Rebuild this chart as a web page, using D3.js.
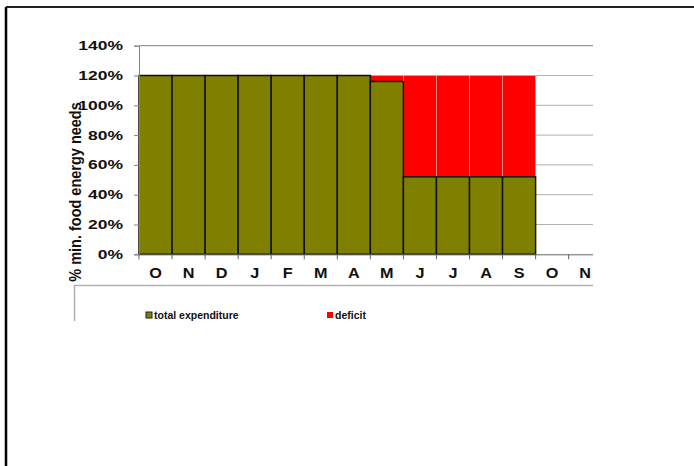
<!DOCTYPE html>
<html>
<head>
<meta charset="utf-8">
<script src="https://cdn.jsdelivr.net/npm/d3@7"></script>
<style>
  html, body { margin: 0; padding: 0; background: #fff; }
  svg { display: block; font-family: "Liberation Sans", Arial, sans-serif; }
</style>
</head>
<body>
<svg id="chart" width="694" height="466"></svg>
<script>
// Data
const months = ['O', 'N', 'D', 'J', 'F', 'M', 'A', 'M', 'J', 'J', 'A', 'S', 'O', 'N'];
const totalExpenditure = [120, 120, 120, 120, 120, 120, 120, 116, 52, 52, 52, 52, null, null];
const deficit = [0, 0, 0, 0, 0, 0, 0, 4, 68, 68, 68, 68, null, null];
const yTicks = [0, 20, 40, 60, 80, 100, 120, 140];
const seriesNames = ['total expenditure', 'deficit'];
const seriesColors = ['#808000', '#ff0000'];

const svg = d3.select('#chart');

// outer frame (only top and left edges are in view)
svg.append('line').attr('x1', 6).attr('y1', 7).attr('x2', 694).attr('y2', 7)
  .attr('stroke', '#222').attr('stroke-width', 2);
svg.append('line').attr('x1', 6).attr('y1', 7).attr('x2', 6).attr('y2', 466)
  .attr('stroke', '#000').attr('stroke-width', 2.5);

// the plot area is cut at 593, the last band runs past it
const plotL = 139, plotR = 593, plotT = 45.7, plotB = 254.3;
const bandEnd = 601.7;

const x = d3.scaleBand().domain(d3.range(months.length)).range([plotL, bandEnd]).padding(0);
const y = d3.scaleLinear().domain([0, 140]).range([plotB, plotT]);

// grid lines
svg.append('g')
  .selectAll('line')
  .data(yTicks.filter(d => d > 0))
  .join('line')
  .attr('x1', plotL).attr('x2', plotR)
  .attr('y1', d => y(d)).attr('y2', d => y(d))
  .attr('stroke', d => d === 140 ? '#808080' : '#b0b0b0')
  .attr('stroke-width', 1);

// stacked bars
const rows = months.map((m, i) => ({ i, total: totalExpenditure[i], deficit: deficit[i] }))
  .filter(d => d.total != null);

svg.append('g')
  .selectAll('rect')
  .data(rows.filter(d => d.deficit > 0))
  .join('rect')
  .attr('x', d => x(d.i))
  .attr('width', x.bandwidth())
  .attr('y', d => y(d.total + d.deficit))
  .attr('height', d => y(d.total) - y(d.total + d.deficit))
  .attr('fill', seriesColors[1])
  .attr('stroke', '#ff9a9a')
  .attr('stroke-width', 0.8);

svg.append('g')
  .selectAll('rect')
  .data(rows)
  .join('rect')
  .attr('x', d => x(d.i))
  .attr('width', x.bandwidth())
  .attr('y', d => y(d.total))
  .attr('height', d => y(0) - y(d.total))
  .attr('fill', seriesColors[0])
  .attr('stroke', '#111')
  .attr('stroke-width', 1.5);

// y axis
const yAxis = svg.append('g')
  .attr('transform', `translate(${plotL},0)`)
  .call(d3.axisLeft(y).tickValues(yTicks).tickFormat(d => d + '%').tickSize(5));
yAxis.select('.domain').attr('stroke', '#808080');
yAxis.selectAll('.tick line').attr('stroke', '#808080');
yAxis.selectAll('.tick text')
  .attr('x', 0)
  .attr('transform', 'translate(-16,0) scale(1.4,1)')
  .attr('font-size', 12.5).attr('font-weight', 'bold').attr('fill', '#111')
  .attr('font-family', '"Liberation Sans", Arial, sans-serif');

// x axis
const xAxis = svg.append('g')
  .attr('transform', `translate(0,${plotB})`)
  .call(d3.axisBottom(x).tickFormat(i => months[i]).tickSize(0).tickPadding(13.5));
xAxis.select('.domain').attr('stroke', '#666').attr('d', `M${plotL},0.5H${plotR}`);
xAxis.selectAll('.tick text')
  .attr('transform', 'scale(1.12,1)')
  .attr('font-size', 14.5).attr('font-weight', 'bold').attr('fill', '#111')
  .attr('font-family', '"Liberation Sans", Arial, sans-serif');

// x tick marks at band boundaries
svg.append('g')
  .selectAll('line')
  .data(d3.range(months.length))
  .join('line')
  .attr('x1', i => x(i)).attr('x2', i => x(i))
  .attr('y1', plotB).attr('y2', plotB + 5)
  .attr('stroke', '#666');

// y axis title
svg.append('text')
  .attr('transform', 'translate(81,192) rotate(-90) scale(1,1.2)')
  .attr('text-anchor', 'middle')
  .attr('font-size', 14.5).attr('font-weight', 'bold').attr('fill', '#111')
  .text('% min. food energy needs');

// legend box (cut off at the bottom)
svg.append('path')
  .attr('d', `M74.5,321V285.5H${plotR}`)
  .attr('fill', 'none').attr('stroke', '#b0b0b0').attr('stroke-width', 1.5);

const legendX = [146, 327];
const legend = svg.append('g')
  .selectAll('g')
  .data(seriesNames)
  .join('g')
  .attr('transform', (d, i) => `translate(${legendX[i]},312)`);
legend.append('rect')
  .attr('width', 6).attr('height', 6)
  .attr('fill', (d, i) => seriesColors[i])
  .attr('stroke', (d, i) => i === 0 ? '#222' : 'none')
  .attr('stroke-width', 1);
legend.append('text')
  .attr('x', 8).attr('y', 7)
  .attr('font-size', 10.5).attr('font-weight', 'bold').attr('fill', '#111')
  .text(d => d);
</script>
</body>
</html>
